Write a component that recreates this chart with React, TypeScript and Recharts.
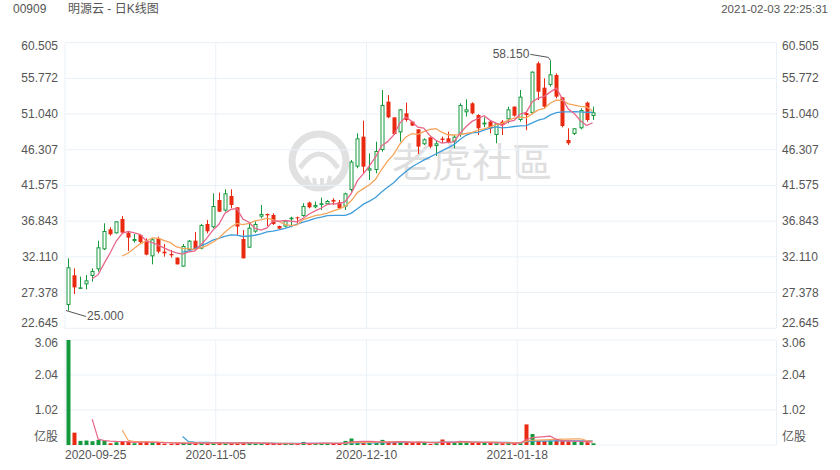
import React from 'react';
import { ComposedChart, Bar, Line, XAxis, YAxis, CartesianGrid, ReferenceDot } from 'recharts';

const dates = [
  '2020-09-25', '2020-09-28', '2020-09-29', '2020-09-30',
  '2020-10-05', '2020-10-06', '2020-10-07', '2020-10-08', '2020-10-09', '2020-10-12', '2020-10-14', '2020-10-15', '2020-10-16',
  '2020-10-19', '2020-10-20', '2020-10-21', '2020-10-22', '2020-10-23', '2020-10-27', '2020-10-28', '2020-10-29', '2020-10-30',
  '2020-11-02', '2020-11-03', '2020-11-04', '2020-11-05', '2020-11-06', '2020-11-09', '2020-11-10', '2020-11-11', '2020-11-12', '2020-11-13',
  '2020-11-16', '2020-11-17', '2020-11-18', '2020-11-19', '2020-11-20', '2020-11-23', '2020-11-24', '2020-11-25', '2020-11-26', '2020-11-27',
  '2020-11-30', '2020-12-01', '2020-12-02', '2020-12-03', '2020-12-04', '2020-12-07', '2020-12-08', '2020-12-09', '2020-12-10', '2020-12-11',
  '2020-12-14', '2020-12-15', '2020-12-16', '2020-12-17', '2020-12-18', '2020-12-21', '2020-12-22', '2020-12-23', '2020-12-24',
  '2020-12-28', '2020-12-29', '2020-12-30', '2020-12-31', '2021-01-04', '2021-01-05', '2021-01-06', '2021-01-07', '2021-01-08',
  '2021-01-11', '2021-01-12', '2021-01-13', '2021-01-14', '2021-01-15', '2021-01-18', '2021-01-19', '2021-01-20', '2021-01-21', '2021-01-22',
  '2021-01-25', '2021-01-26', '2021-01-27', '2021-01-28', '2021-01-29', '2021-02-01', '2021-02-02', '2021-02-03',
];

const open = [
  25.74, 29.67, 27.94, 28.47, 29.58, 30.46, 33.11, 35.76, 35.23, 37.13,
  35.32, 34.22, 35.01, 34.22, 32.18, 34.57, 32.80, 32.49, 32.01, 30.82,
  33.02, 34.26, 33.20, 36.47, 36.03, 39.65, 38.24, 40.18, 38.68, 34.48,
  33.33, 35.45, 37.44, 37.79, 37.66, 36.20, 36.12, 37.09, 37.35, 37.53,
  39.30, 38.68, 38.99, 39.07, 39.65, 39.34, 38.77, 40.97, 44.07, 48.04,
  43.54, 43.62, 46.27, 52.68, 50.60, 48.61, 51.13, 50.03, 49.01, 47.03,
  47.95, 46.80, 47.78, 47.82, 47.38, 48.26, 51.27, 52.46, 50.91, 49.67,
  50.03, 48.26, 50.03, 50.34, 52.02, 50.25, 51.17, 51.18, 57.76, 54.53,
  54.89, 56.21, 53.25, 47.60, 48.40, 49.15, 52.55, 50.78,
];
const high = [
  31.92, 30.59, 29.49, 29.71, 30.59, 34.26, 36.56, 36.03, 36.82, 37.53,
  35.45, 35.14, 35.05, 34.57, 34.57, 34.79, 33.82, 33.02, 32.05, 33.82,
  34.35, 35.41, 36.47, 37.00, 40.53, 40.62, 41.06, 41.06, 38.70, 35.67,
  36.47, 36.80, 38.99, 37.85, 37.88, 36.25, 37.00, 37.44, 37.44, 39.21,
  39.43, 39.43, 39.96, 39.65, 39.87, 39.65, 40.62, 44.95, 48.48, 50.16,
  45.83, 47.38, 54.22, 53.56, 50.60, 51.70, 52.55, 50.05, 49.01, 47.82,
  47.95, 47.51, 48.04, 48.70, 48.26, 52.46, 52.99, 52.60, 51.00, 50.60,
  50.25, 49.85, 50.25, 52.02, 52.05, 54.22, 51.40, 56.70, 57.98, 55.77,
  58.15, 56.43, 53.30, 49.15, 49.15, 51.80, 52.68, 52.02,
];
const low = [
  25.00, 27.19, 27.90, 27.81, 28.83, 30.15, 33.02, 34.92, 35.20, 35.32,
  32.89, 34.00, 33.91, 32.32, 31.12, 32.58, 32.14, 32.01, 31.10, 30.80,
  33.00, 33.02, 33.11, 35.23, 35.89, 38.05, 38.10, 38.54, 35.01, 31.90,
  33.30, 35.30, 37.22, 36.20, 36.34, 35.80, 36.03, 36.03, 36.56, 37.44,
  38.54, 38.54, 38.32, 38.99, 38.99, 38.41, 38.32, 40.75, 43.85, 43.18,
  42.30, 43.18, 46.05, 50.50, 48.26, 47.38, 50.03, 49.45, 45.74, 46.94,
  46.49, 45.48, 47.25, 47.16, 46.49, 48.04, 50.69, 51.00, 48.26, 49.30,
  48.48, 47.16, 48.26, 49.81, 50.69, 50.03, 48.90, 51.00, 52.90, 51.80,
  54.67, 53.12, 49.28, 46.94, 48.26, 49.01, 50.03, 50.25,
];
const close = [
  30.73, 28.07, 28.07, 29.00, 30.24, 33.38, 35.54, 35.10, 36.82, 35.32,
  34.66, 34.48, 34.08, 32.41, 34.44, 32.80, 32.58, 32.32, 31.12, 33.55,
  34.26, 33.16, 36.34, 35.50, 38.85, 38.10, 40.53, 38.99, 36.12, 31.92,
  35.98, 36.47, 37.79, 37.62, 36.47, 35.85, 36.91, 37.31, 37.22, 38.85,
  38.68, 38.99, 39.21, 39.52, 39.43, 38.55, 40.53, 44.73, 47.82, 44.07,
  43.85, 46.14, 52.24, 50.60, 48.39, 51.66, 50.25, 49.50, 46.72, 47.69,
  46.72, 47.16, 47.60, 47.25, 48.04, 52.24, 51.66, 51.13, 49.15, 49.90,
  49.15, 49.81, 49.59, 51.66, 50.82, 53.34, 50.90, 56.65, 54.00, 52.02,
  56.30, 53.34, 49.45, 47.16, 49.15, 51.57, 50.25, 51.27,
];
// volume in 亿股
const volume = [
  3.06, 0.36, 0.12, 0.13, 0.11, 0.15, 0.13, 0.05, 0.08, 0.10,
  0.10, 0.05, 0.07, 0.10, 0.08, 0.07, 0.04, 0.04, 0.05, 0.06,
  0.05, 0.06, 0.06, 0.05, 0.07, 0.06, 0.05, 0.05, 0.06, 0.08,
  0.06, 0.04, 0.04, 0.03, 0.04, 0.03, 0.04, 0.04, 0.03, 0.09,
  0.05, 0.04, 0.05, 0.05, 0.05, 0.05, 0.12, 0.19, 0.09, 0.08,
  0.06, 0.06, 0.15, 0.08, 0.08, 0.08, 0.07, 0.07, 0.10, 0.06,
  0.03, 0.05, 0.16, 0.09, 0.06, 0.12, 0.08, 0.07, 0.07, 0.06,
  0.07, 0.05, 0.05, 0.06, 0.05, 0.05, 0.60, 0.32, 0.12, 0.12,
  0.12, 0.13, 0.12, 0.10, 0.10, 0.09, 0.08, 0.05,
];

const priceTicks = [22.645, 27.378, 32.11, 36.843, 41.575, 46.307, 51.04, 55.772, 60.505];
const volumeTicks = [0, 1.02, 2.04, 3.06];
const dateTickIdx = [0, 25, 50, 75];
const SLOTS = 118;
const highMark = { idx: 80, value: 58.15, label: '58.150' };
const lowMark = { idx: 0, value: 25.0, label: '25.000' };

const GREEN = '#14993c';
const RED = '#ea2a10';
const MA5C = '#e8668a';
const MA10C = '#f5a55c';
const MA20C = '#3f9ddb';
const GRID = '#e9f1f7';
const TEXT = '#555';
const FONT = "'Liberation Sans', Arial, 'Noto Sans CJK SC', sans-serif";

function movingAvg(arr: number[], n: number): (number | null)[] {
  return arr.map((_, i) => {
    if (i < n - 1) return null;
    let s = 0;
    for (let k = i - n + 1; k <= i; k++) s += arr[k];
    return s / n;
  });
}

const ma5 = movingAvg(close, 5);
const ma10 = movingAvg(close, 10);
const ma20 = movingAvg(close, 20);
const vma5 = movingAvg(volume, 5);
const vma10 = movingAvg(volume, 10);
const vma20 = movingAvg(volume, 20);

const data = dates.map((d, i) => ({
  idx: i,
  date: d,
  open: open[i],
  high: high[i],
  low: low[i],
  close: close[i],
  range: [low[i], high[i]],
  vol: volume[i],
  up: close[i] >= open[i],
  ma5: ma5[i],
  ma10: ma10[i],
  ma20: ma20[i],
  vma5: vma5[i],
  vma10: vma10[i],
  vma20: vma20[i],
}));

const xDomain: [number, number] = [-0.5, SLOTS - 0.5];
const xTicks = dateTickIdx.map((i) => i - 0.5);

const Candle = (props: any) => {
  const { x, y, width, height, payload } = props;
  if (x == null || y == null) return null;
  const top = Math.min(y, y + height);
  const h = Math.abs(height);
  const span = payload.high - payload.low;
  const py = (v: number) => (span > 0 ? top + ((payload.high - v) / span) * h : top);
  const up = payload.close >= payload.open;
  const color = up ? GREEN : RED;
  const cx = Math.round(x + width / 2) + 0.5;
  const bTop = py(Math.max(payload.open, payload.close));
  const bBot = py(Math.min(payload.open, payload.close));
  const bh = Math.max(1, bBot - bTop);
  return (
    <g>
      <line x1={cx} x2={cx} y1={top} y2={top + h} stroke={color} strokeWidth={1} />
      {up ? (
        <rect x={cx - 1.5} y={bTop + 0.5} width={3} height={Math.max(0.5, bh - 1)} fill="#fff" stroke={color} strokeWidth={1} />
      ) : (
        <rect x={cx - 2} y={bTop} width={4} height={bh} fill={color} />
      )}
    </g>
  );
};

const VolBar = (props: any) => {
  const { x, y, width, height, payload } = props;
  if (x == null) return null;
  const cx = Math.round(x + width / 2) + 0.5;
  return <rect x={cx - 2} y={y} width={4} height={height} fill={payload.up ? GREEN : RED} />;
};

const makeYTick = (anchor: 'start' | 'end', kind: 'price' | 'vol') => (props: any) => {
  const { x, y, payload } = props;
  const v = payload.value;
  let dy = 0;
  let label = '';
  if (kind === 'price') {
    label = v.toFixed(3);
    if (v === priceTicks[priceTicks.length - 1]) dy = 3.5;
    if (v === priceTicks[0]) dy = -5;
  } else {
    label = v === 0 ? '亿股' : v.toFixed(2);
    if (v === volumeTicks[volumeTicks.length - 1]) dy = 3;
    if (v === 0) dy = -8;
  }
  return (
    <text x={x} y={y + dy} textAnchor={anchor} dominantBaseline="central" fontSize={12} fontFamily={FONT} fill={TEXT}>
      {label}
    </text>
  );
};

const XTick = (props: any) => {
  const { x, y, payload, index } = props;
  const i = Math.round(payload.value + 0.5);
  return (
    <text x={x} y={y + 10} textAnchor={index === 0 ? 'start' : 'middle'} dominantBaseline="central" fontSize={12} fontFamily={FONT} fill={TEXT}>
      {dates[i]}
    </text>
  );
};

const HighLabel = (props: any) => {
  const { cx, cy } = props;
  if (cx == null) return null;
  return (
    <g>
      <polyline points={`${cx - 20},${cy - 6} ${cx - 2},${cy - 3} ${cx},${cy}`} fill="none" stroke="#555" strokeWidth={1} />
      <text x={cx - 21} y={cy - 6} textAnchor="end" dominantBaseline="central" fontSize={12} fontFamily={FONT} fill={TEXT}>
        {highMark.label}
      </text>
    </g>
  );
};

const LowLabel = (props: any) => {
  const { cx, cy } = props;
  if (cx == null) return null;
  return (
    <g>
      <polyline points={`${cx - 2},${cy} ${cx + 18},${cy + 6}`} fill="none" stroke="#555" strokeWidth={1} />
      <text x={cx + 19} y={cy + 5.5} textAnchor="start" dominantBaseline="central" fontSize={12} fontFamily={FONT} fill={TEXT}>
        {lowMark.label}
      </text>
    </g>
  );
};

const PLOT_LEFT = 65;
const PLOT_RIGHT_W = 63.5;

export default function App() {
  return (
    <div style={{ position: 'fixed', left: 0, top: 0, width: 840, height: 470, background: '#fff', overflow: 'hidden' }}>
      <svg width={840} height={470} style={{ position: 'absolute', left: 0, top: 0 }}>
        <text x={13} y={9} dominantBaseline="central" fontSize={12} fontFamily={FONT} fill={TEXT}>00909</text>
        <text x={68} y={9} dominantBaseline="central" fontSize={12} fontFamily={FONT} fill={TEXT}>明源云 - 日K线图</text>
        <text x={828} y={9} textAnchor="end" dominantBaseline="central" fontSize={11.5} fontFamily={FONT} fill={TEXT}>2021-02-03 22:25:31</text>
        <g opacity={0.9}>
          <circle cx={319} cy={161} r={27} fill="none" stroke="#dedede" strokeWidth={7} />
          <path d="M300 168 Q319 140 338 168" fill="none" stroke="#dedede" strokeWidth={5} />
          <path d="M306 176 L310 186 M314 178 L316 189 M322 178 L322 189 M330 176 L328 186" stroke="#dedede" strokeWidth={4} />
          <text x={392} y={177} fontSize={40} fontFamily="'Noto Sans CJK TC', 'Noto Sans CJK SC', sans-serif" fill="#dcdcdc">老虎社區</text>
        </g>
      </svg>

      <div style={{ position: 'absolute', left: 0, top: 0 }}>
        <ComposedChart width={840} height={335} data={data} margin={{ top: 42.6, bottom: 6.7, left: 0, right: 0 }}>
          <CartesianGrid yAxisId="left" stroke={GRID} strokeWidth={1} />
          <XAxis dataKey="idx" type="number" domain={xDomain} ticks={xTicks} hide allowDataOverflow />
          <YAxis yAxisId="left" orientation="left" width={PLOT_LEFT} domain={[priceTicks[0], priceTicks[priceTicks.length - 1]]} ticks={priceTicks} allowDataOverflow axisLine={false} tickLine={false} tickSize={0} tickMargin={7} tick={makeYTick('end', 'price')} interval={0} />
          <YAxis yAxisId="right" orientation="right" width={PLOT_RIGHT_W} domain={[priceTicks[0], priceTicks[priceTicks.length - 1]]} ticks={priceTicks} allowDataOverflow axisLine={false} tickLine={false} tickSize={0} tickMargin={5.5} tick={makeYTick('start', 'price')} interval={0} />
          <Bar yAxisId="left" dataKey="range" barSize={4} shape={<Candle />} isAnimationActive={false} />
          <Line yAxisId="left" dataKey="ma20" stroke={MA20C} strokeWidth={1.3} dot={false} activeDot={false} isAnimationActive={false} />
          <Line yAxisId="left" dataKey="ma10" stroke={MA10C} strokeWidth={1.3} dot={false} activeDot={false} isAnimationActive={false} />
          <Line yAxisId="left" dataKey="ma5" stroke={MA5C} strokeWidth={1.3} dot={false} activeDot={false} isAnimationActive={false} />
          <ReferenceDot yAxisId="left" x={highMark.idx} y={highMark.value} r={2} ifOverflow="visible" shape={<HighLabel />} />
          <ReferenceDot yAxisId="left" x={lowMark.idx} y={lowMark.value} r={2} ifOverflow="visible" shape={<LowLabel />} />
        </ComposedChart>
      </div>

      <div style={{ position: 'absolute', left: 0, top: 335 }}>
        <ComposedChart width={840} height={135} data={data} margin={{ top: 5, bottom: 0, left: 0, right: 0 }}>
          <CartesianGrid yAxisId="vl" stroke={GRID} strokeWidth={1} />
          <XAxis dataKey="idx" type="number" domain={xDomain} ticks={xTicks} height={25} axisLine={false} tickLine={false} tickSize={0} tickMargin={0} tick={<XTick />} interval={0} allowDataOverflow />
          <YAxis yAxisId="vl" orientation="left" width={PLOT_LEFT} domain={[0, volumeTicks[volumeTicks.length - 1]]} ticks={volumeTicks} allowDataOverflow axisLine={false} tickLine={false} tickSize={0} tickMargin={7} tick={makeYTick('end', 'vol')} interval={0} />
          <YAxis yAxisId="vr" orientation="right" width={PLOT_RIGHT_W} domain={[0, volumeTicks[volumeTicks.length - 1]]} ticks={volumeTicks} allowDataOverflow axisLine={false} tickLine={false} tickSize={0} tickMargin={5.5} tick={makeYTick('start', 'vol')} interval={0} />
          <Bar yAxisId="vl" dataKey="vol" barSize={4} shape={<VolBar />} isAnimationActive={false} />
          <Line yAxisId="vl" dataKey="vma20" stroke={MA20C} strokeWidth={1.2} dot={false} activeDot={false} isAnimationActive={false} />
          <Line yAxisId="vl" dataKey="vma10" stroke={MA10C} strokeWidth={1.2} dot={false} activeDot={false} isAnimationActive={false} />
          <Line yAxisId="vl" dataKey="vma5" stroke={MA5C} strokeWidth={1.2} dot={false} activeDot={false} isAnimationActive={false} />
        </ComposedChart>
      </div>
    </div>
  );
}
